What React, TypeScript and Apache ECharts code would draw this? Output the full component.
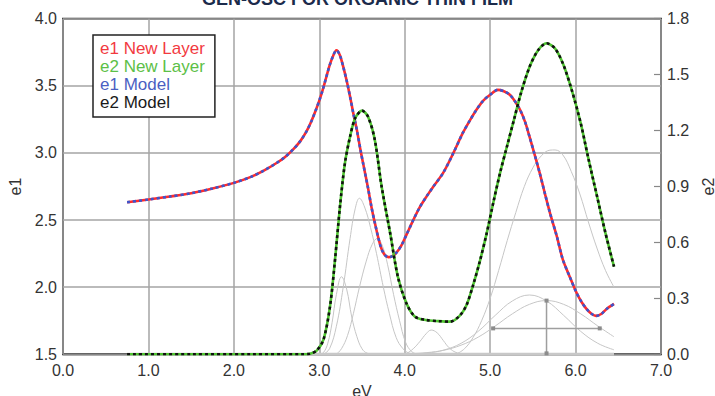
import { useEffect, useRef } from "react";
import * as echarts from "echarts";

type Pt = [number, number];

const TITLE = "GEN-OSC FOR ORGANIC THIN FILM";
const SERIES_NAMES = ["e1 New Layer", "e2 New Layer", "e1 Model", "e2 Model"];
const SERIES_COLORS = ["#ff2b2b", "#4fc531", "#3d55cc", "#111111"];
const LEGEND_TEXT_COLORS = ["#f23a3f", "#5cc047", "#4b5fc2", "#1a1a1a"];

// real part of the dielectric function (left axis)
const e1Curve: Pt[] = [
  [0.75, 2.633], [1.0, 2.653], [1.25, 2.675], [1.5, 2.7], [1.75, 2.735], [2.0, 2.777],
  [2.2, 2.822], [2.35, 2.868], [2.5, 2.925], [2.6, 2.97], [2.7, 3.03], [2.78, 3.09],
  [2.85, 3.16], [2.91, 3.24], [2.96, 3.32], [3.0, 3.39], [3.04, 3.47], [3.08, 3.56],
  [3.12, 3.65], [3.16, 3.72], [3.2, 3.765], [3.24, 3.73], [3.28, 3.643], [3.32, 3.54],
  [3.36, 3.42], [3.4, 3.29], [3.44, 3.17], [3.48, 3.03], [3.52, 2.9], [3.57, 2.74],
  [3.61, 2.6], [3.65, 2.48], [3.69, 2.37], [3.72, 2.3], [3.75, 2.255], [3.78, 2.232],
  [3.81, 2.224], [3.85, 2.23], [3.9, 2.255], [3.96, 2.31], [4.02, 2.39], [4.1, 2.5],
  [4.18, 2.6], [4.26, 2.68], [4.33, 2.745], [4.45, 2.851], [4.57, 3.0], [4.68, 3.149],
  [4.77, 3.25], [4.84, 3.322], [4.92, 3.39], [5.0, 3.433], [5.09, 3.47], [5.16, 3.46],
  [5.23, 3.433], [5.29, 3.385], [5.35, 3.322], [5.41, 3.23], [5.46, 3.123], [5.52, 2.99],
  [5.58, 2.851], [5.64, 2.7], [5.7, 2.554], [5.78, 2.38], [5.85, 2.207], [5.93, 2.08],
  [6.01, 1.96], [6.07, 1.89], [6.13, 1.836], [6.19, 1.8], [6.24, 1.786], [6.3, 1.8],
  [6.36, 1.836], [6.45, 1.875],
];

// imaginary part of the dielectric function (right axis)
const e2Curve: Pt[] = [
  [0.75, 0], [1.5, 0], [2.2, 0], [2.8, 0], [2.89, 0.003], [2.97, 0.02], [3.05, 0.08],
  [3.125, 0.255], [3.184, 0.506], [3.242, 0.792], [3.3, 1.025], [3.36, 1.167],
  [3.42, 1.266], [3.5, 1.307], [3.57, 1.275], [3.65, 1.15], [3.73, 0.899], [3.83, 0.649],
  [3.92, 0.416], [4.02, 0.274], [4.12, 0.202], [4.25, 0.184], [4.4, 0.178], [4.53, 0.175],
  [4.64, 0.205], [4.72, 0.26], [4.8, 0.37], [4.88, 0.5], [4.96, 0.65], [5.04, 0.82],
  [5.12, 0.98], [5.2, 1.12], [5.28, 1.26], [5.36, 1.4], [5.46, 1.54], [5.56, 1.63],
  [5.66, 1.668], [5.76, 1.64], [5.86, 1.55], [5.96, 1.41], [6.06, 1.24], [6.15, 1.05],
  [6.25, 0.85], [6.35, 0.65], [6.45, 0.47],
];

// individual oscillator contributions to e2
const oscA: Pt[] = [
  [3.0, 0], [3.05, 0.01], [3.1, 0.06], [3.15, 0.17], [3.2, 0.32], [3.26, 0.416],
  [3.32, 0.35], [3.38, 0.2], [3.44, 0.095], [3.5, 0.03], [3.56, 0.006], [3.65, 0],
];
const oscB: Pt[] = [
  [3.05, 0], [3.12, 0.03], [3.2, 0.15], [3.28, 0.36], [3.36, 0.62], [3.42, 0.78],
  [3.47, 0.837], [3.53, 0.79], [3.6, 0.68], [3.67, 0.54], [3.75, 0.36], [3.82, 0.22],
  [3.9, 0.09], [3.98, 0.03], [4.06, 0.005], [4.15, 0],
];
const oscC: Pt[] = [
  [3.2, 0], [3.26, 0.03], [3.33, 0.1], [3.4, 0.22], [3.47, 0.36], [3.55, 0.5],
  [3.62, 0.59], [3.68, 0.622], [3.74, 0.58], [3.8, 0.48], [3.87, 0.32], [3.94, 0.18],
  [4.01, 0.065], [4.08, 0.015], [4.15, 0],
];
const oscD: Pt[] = [
  [3.95, 0], [4.02, 0.005], [4.1, 0.03], [4.18, 0.07], [4.25, 0.11], [4.31, 0.13],
  [4.38, 0.115], [4.45, 0.075], [4.52, 0.035], [4.6, 0.01], [4.7, 0],
];
const oscE: Pt[] = [
  [4.6, 0], [4.7, 0.03], [4.8, 0.09], [4.9, 0.18], [5.0, 0.3], [5.1, 0.45], [5.2, 0.61],
  [5.3, 0.76], [5.4, 0.9], [5.5, 1.0], [5.6, 1.065], [5.7, 1.095], [5.76, 1.096],
  [5.85, 1.07], [5.95, 0.98], [6.05, 0.86], [6.15, 0.71], [6.25, 0.57], [6.35, 0.45],
  [6.45, 0.36],
];
const oscF: Pt[] = [
  [4.0, 0], [4.26, 0.007], [4.46, 0.023], [4.66, 0.059], [4.86, 0.123], [5.06, 0.209],
  [5.26, 0.286], [5.46, 0.318], [5.66, 0.286], [5.86, 0.209], [6.06, 0.123],
  [6.26, 0.059], [6.45, 0.024],
];
const oscG: Pt[] = [
  [3.86, 0], [4.06, 0.003], [4.26, 0.009], [4.46, 0.022], [4.66, 0.049], [4.86, 0.092],
  [5.06, 0.152], [5.26, 0.217], [5.46, 0.268], [5.66, 0.288], [5.86, 0.268],
  [6.06, 0.217], [6.26, 0.152], [6.45, 0.094],
];
const oscillators = [oscA, oscB, oscC, oscD, oscE, oscF, oscG];

// spectral range of the fit, drawn along e2 = 0
const baseline: Pt[] = [[0.75, 0], [6.45, 0]];
// width / centre handles of the selected oscillator
const handleWidth: Pt[] = [[5.035, 0.139], [6.283, 0.139]];
const handleCenter: Pt[] = [[5.66, 0.288], [5.66, 0.005]];

const FONT = "'Liberation Sans', Arial, Helvetica, sans-serif";

export default function App() {
  const ref = useRef<HTMLDivElement>(null);

  useEffect(() => {
    if (!ref.current) return;
    const chart = echarts.init(ref.current, undefined, { renderer: "svg" });

    const gray = oscillators.map((d) => ({
      type: "line" as const,
      yAxisIndex: 1,
      data: d,
      smooth: 0.4,
      symbol: "none",
      silent: true,
      lineStyle: { color: "#c6c6c6", width: 1 },
    }));

    const handle = (d: Pt[]) => ({
      type: "line" as const,
      yAxisIndex: 1,
      data: d,
      symbol: "rect",
      symbolSize: 4,
      showSymbol: true,
      silent: true,
      itemStyle: { color: "#8c8c8c" },
      lineStyle: { color: "#9e9e9e", width: 1.5 },
    });

    chart.setOption({
      animation: false,
      backgroundColor: "#ffffff",
      textStyle: { fontFamily: FONT },
      graphic: [
        {
          type: "text",
          left: "center",
          top: -10,
          style: {
            text: TITLE,
            font: `bold 18px ${FONT}`,
            fill: "#1b2b4b",
          },
        },
      ],
      legend: {
        orient: "vertical",
        left: 93,
        top: 35,
        icon: "none",
        itemWidth: 0,
        itemHeight: 14,
        itemGap: 0,
        padding: [4, 10, 6, 2],
        borderColor: "#222",
        borderWidth: 1.5,
        backgroundColor: "#ffffff",
        selectedMode: false,
        textStyle: { fontSize: 17, lineHeight: 18, fontFamily: FONT },
        data: SERIES_NAMES.map((n, i) => ({
          name: n,
          textStyle: { color: LEGEND_TEXT_COLORS[i] },
        })),
      },
      grid: {
        left: 63,
        right: 54,
        top: 18.7,
        bottom: 41.7,
        containLabel: false,
        outerBoundsMode: "none",
        show: true,
        borderColor: "#333",
        borderWidth: 2,
        backgroundColor: "transparent",
      },
      xAxis: {
        type: "value",
        min: 0,
        max: 7,
        interval: 1,
        name: "eV",
        nameLocation: "middle",
        nameGap: 27,
        nameTextStyle: { fontSize: 16, color: "#333" },
        axisLine: { show: false },
        axisTick: { show: false },
        axisLabel: {
          fontSize: 16,
          color: "#333",
          margin: 8,
          formatter: (v: number) => v.toFixed(1),
        },
        splitLine: { show: true, lineStyle: { color: "#a4a4a4", width: 1.5 } },
      },
      yAxis: [
        {
          type: "value",
          min: 1.5,
          max: 4.0,
          interval: 0.5,
          name: "e1",
          nameLocation: "middle",
          nameGap: 38,
          nameTextStyle: { fontSize: 16, color: "#333" },
          axisLine: { show: false },
          axisTick: { show: false },
          axisLabel: {
            fontSize: 16,
            color: "#333",
            margin: 6,
            formatter: (v: number) => v.toFixed(1),
          },
          splitLine: { show: true, lineStyle: { color: "#a4a4a4", width: 1.5 } },
        },
        {
          type: "value",
          position: "right",
          min: 0,
          max: 1.8,
          interval: 0.3,
          name: "e2",
          nameLocation: "middle",
          nameGap: 37,
          nameTextStyle: { fontSize: 16, color: "#333" },
          axisLine: { show: false },
          axisTick: {
            show: true,
            inside: true,
            length: 7,
            lineStyle: { color: "#888", width: 1.2 },
          },
          axisLabel: {
            fontSize: 16,
            color: "#333",
            margin: 6,
            formatter: (v: number) => v.toFixed(1),
          },
          splitLine: { show: false },
        },
      ],
      series: [
        ...gray,
        {
          type: "line",
          yAxisIndex: 1,
          data: baseline,
          symbol: "none",
          silent: true,
          lineStyle: { color: "#c8c8c8", width: 3 },
        },
        handle(handleWidth),
        handle(handleCenter),
        {
          name: SERIES_NAMES[0],
          type: "line",
          yAxisIndex: 0,
          data: e1Curve,
          smooth: 0.3,
          symbol: "none",
          lineStyle: { color: SERIES_COLORS[0], width: 2.6 },
          itemStyle: { color: SERIES_COLORS[0] },
        },
        {
          name: SERIES_NAMES[2],
          type: "line",
          yAxisIndex: 0,
          data: e1Curve,
          smooth: 0.3,
          symbol: "none",
          lineStyle: { color: SERIES_COLORS[2], width: 2.6, type: [3, 3] },
          itemStyle: { color: SERIES_COLORS[2] },
        },
        {
          name: SERIES_NAMES[1],
          type: "line",
          yAxisIndex: 1,
          data: e2Curve,
          smooth: 0.3,
          symbol: "none",
          lineStyle: { color: SERIES_COLORS[1], width: 2.6 },
          itemStyle: { color: SERIES_COLORS[1] },
        },
        {
          name: SERIES_NAMES[3],
          type: "line",
          yAxisIndex: 1,
          data: e2Curve,
          smooth: 0.3,
          symbol: "none",
          lineStyle: { color: SERIES_COLORS[3], width: 2.6, type: [3, 3] },
          itemStyle: { color: SERIES_COLORS[3] },
        },
      ],
    });

    return () => chart.dispose();
  }, []);

  return (
    <div
      ref={ref}
      style={{
        position: "fixed",
        left: 0,
        top: 0,
        width: 715,
        height: 396,
        background: "#ffffff",
      }}
    />
  );
}
